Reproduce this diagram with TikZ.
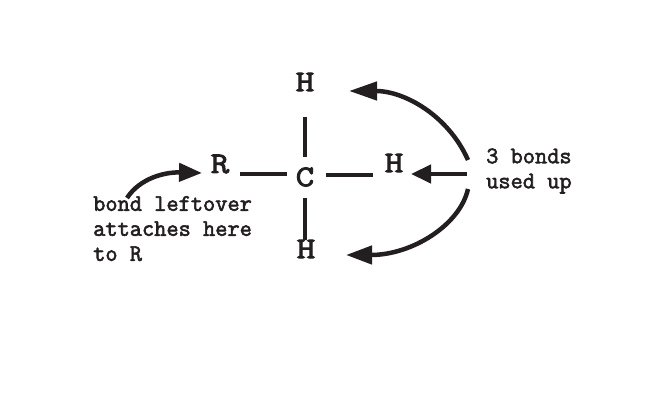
\documentclass[tikz,border=0pt]{standalone}
\usepackage{fontspec}
\newfontfamily\atomfont{Latin Modern Mono}[FakeBold=3,FakeStretch=1.2]
\newfontfamily\notefont{Latin Modern Mono}[FakeBold=2.4]
\usetikzlibrary{arrows.meta}
\definecolor{inkblack}{HTML}{231F20}

\begin{document}
\begin{tikzpicture}[x=1pt, y=1pt, inkblack,
		atom node/.style={inner sep=0pt, font=\atomfont\fontsize{30}{30}\selectfont},
		note node/.style={inner sep=0pt, align=left, font=\notefont\fontsize{23.7}{25}\selectfont},
		bond/.style={line width=4pt},
		pointer/.style={line width=4.5pt, -{Triangle[length=#1, width=18pt]}}, pointer/.default=26pt]
			\useasboundingbox (0,0) rectangle (650,409);

			\node[atom node] (C) at (305,232) {C};
			\node[atom node] (Ht) [above of=C, node distance=95pt] {H};
			\node[atom node] (Hb) [below of=C, node distance=72pt, xshift=1pt] {H};
			\node[atom node] (Hr) [right of=C, node distance=89pt, yshift=14pt] {H};
			\node[atom node] (R) [left of=C, node distance=85pt, yshift=13pt] {R};
			\node[note node, anchor=west] (used) at (486,238) {3 bonds\\used up};
			\node[note node, anchor=north west] (left) at (93,213) {bond leftover\\attaches here\\to R};

			\draw[bond] ([yshift=-35]Ht.center) -- ([yshift=20]C.center);
			\draw[bond] ([xshift=-1,yshift=9]Hb.center) -- ([yshift=-21]C.center);
			\draw[bond] ([xshift=20,yshift=-10]R.center) -- ([xshift=-18,yshift=3]C.center);
			\draw[bond] ([xshift=-21,yshift=-12.5]Hr.center) -- ([xshift=21,yshift=1.5]C.center);

			\draw[pointer=28pt] ([xshift=-18,yshift=11]used.west) .. controls +(-20,45) and +(55,0) .. ([xshift=44,yshift=-9]Ht.center);
			\draw[pointer=20pt] ([xshift=-19,yshift=-3]used.west) -- ([xshift=17,yshift=-11]Hr.center);
			\draw[pointer=26pt] ([xshift=-18,yshift=-18]used.west) .. controls +(-8,-36) and +(66,0) .. ([xshift=40,yshift=-6]Hb.center);
			\draw[pointer=23pt] ([xshift=34,yshift=-2]left.north west) .. controls +(13,20) and +(-37,1) .. ([xshift=-18,yshift=-9]R.center);
		\end{tikzpicture}
\end{document}
